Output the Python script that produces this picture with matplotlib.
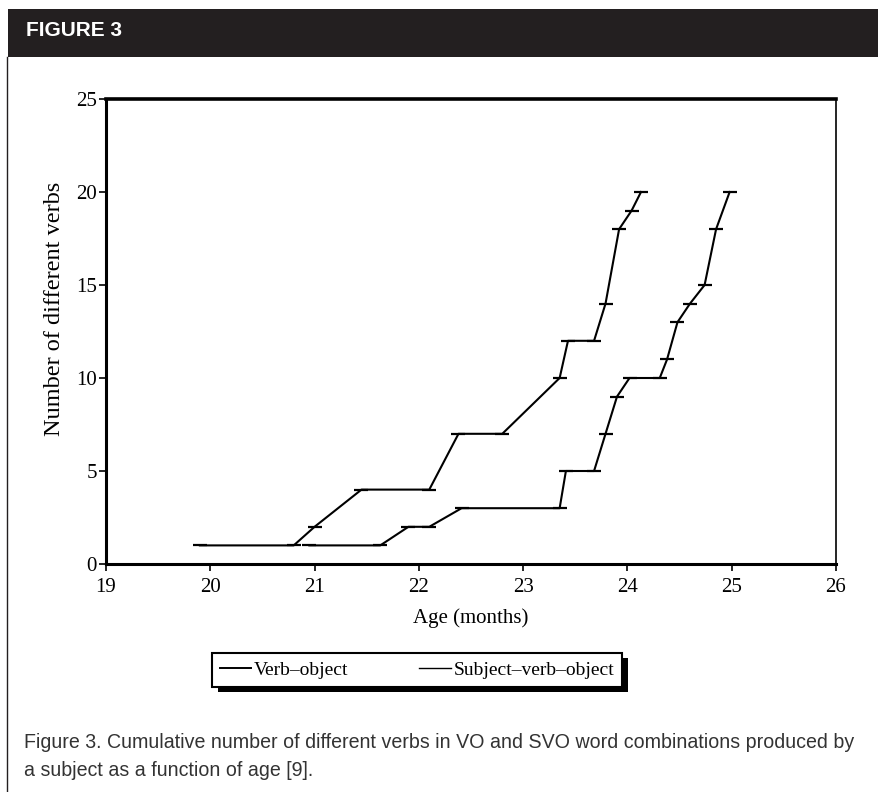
import matplotlib
matplotlib.use("Agg")
import matplotlib.pyplot as plt
from matplotlib.patches import Rectangle

# ---- data ----
vo_age = [19.9, 20.8, 21.0, 21.45, 22.1, 22.38, 22.8, 23.35, 23.43, 23.68, 23.79, 23.92, 24.04, 24.13]
vo_verbs = [1, 1, 2, 4, 4, 7, 7, 10, 12, 12, 14, 18, 19, 20]
svo_age = [20.95, 21.63, 21.9, 22.1, 22.41, 23.35, 23.41, 23.68, 23.79, 23.9, 24.02, 24.31,
           24.38, 24.48, 24.6, 24.74, 24.85, 24.98]
svo_verbs = [1, 1, 2, 2, 3, 3, 5, 5, 7, 9, 10, 10, 11, 13, 14, 15, 18, 20]
series_labels = ["Verb\u2013object", "Subject\u2013verb\u2013object"]
x_ticks = [19, 20, 21, 22, 23, 24, 25, 26]
y_ticks = [0, 5, 10, 15, 20, 25]
header_text = "FIGURE 3"
caption_lines = [
    "Figure 3. Cumulative number of different verbs in VO and SVO word combinations produced by",
    "a subject as a function of age [9].",
]

serif = "Liberation Serif"
sans = "Liberation Sans"

W, H = 879, 792
fig = plt.figure(figsize=(W / 100, H / 100), dpi=100)

# header bar
fig.patches.append(Rectangle((8 / W, 1 - 57 / H), 1 - 8 / W, 48 / H, transform=fig.transFigure,
                             facecolor="#231f20", edgecolor="none", zorder=0))
fig.text(26 / W, 1 - 30 / H, header_text, color="white", fontsize=15, fontweight="bold",
         family=sans, va="center", ha="left")
# left border line
fig.lines.append(plt.Line2D([7.5 / W, 7.5 / W], [0, 1 - 57 / H], transform=fig.transFigure,
                            color="#231f20", lw=1.0))

# axes
x0, x1 = 106, 836
y0, y1 = 99, 564
ax = fig.add_axes([x0 / W, 1 - y1 / H, (x1 - x0) / W, (y1 - y0) / H])
ax.set_xlim(19, 26)
ax.set_ylim(0, 25)
ax.set_xticks(x_ticks)
ax.set_yticks(y_ticks)
ax.tick_params(direction="out", length=5, width=1.2, labelsize=15, colors="black")
ax.tick_params(axis="y", pad=1.5)
ax.tick_params(axis="x", pad=5)
for lbl in ax.get_xticklabels() + ax.get_yticklabels():
    lbl.set_family(serif)
ax.spines["top"].set_linewidth(2.6)
ax.spines["left"].set_linewidth(2.2)
ax.spines["bottom"].set_linewidth(2.2)
ax.spines["right"].set_linewidth(1.2)

ax.plot(vo_age, vo_verbs, color="black", lw=1.5, marker="_", markersize=10,
        markeredgewidth=1.6, label=series_labels[0])
ax.plot(svo_age, svo_verbs, color="black", lw=1.5, marker="_", markersize=10,
        markeredgewidth=1.6, label=series_labels[1])

ax.set_xlabel("Age (months)", family=serif, fontsize=15, labelpad=8)
ax.set_ylabel("Number of different verbs", family=serif, fontsize=17.5)
ax.yaxis.set_label_coords((65 - x0) / (x1 - x0), (y1 - 309) / (y1 - y0))

# legend
h1 = plt.Line2D([], [], color="black", lw=1.4)
h2 = plt.Line2D([], [], color="black", lw=1.0)
leg = fig.legend([h1, h2], series_labels, ncol=2, loc="center", mode="expand",
                 bbox_to_anchor=(212 / W, 1 - 688 / H, 410 / W, 36 / H),
                 bbox_transform=fig.transFigure,
                 frameon=True, fancybox=False, shadow=False, edgecolor="black",
                 facecolor="white", framealpha=1.0,
                 prop={"family": serif, "size": 14}, handlelength=1.6, handletextpad=0.15,
                 columnspacing=3.7, borderpad=0.4, borderaxespad=0)
leg.get_frame().set_linewidth(1.5)
leg.set_zorder(5)

fig.canvas.draw()
bb = leg.get_window_extent()
fig.patches.append(Rectangle(((bb.x0 + 6) / W, (bb.y0 - 5) / H), bb.width / W, bb.height / H,
                             transform=fig.transFigure, facecolor="black", edgecolor="none",
                             zorder=4))

# caption
for i, line in enumerate(caption_lines):
    fig.text(24 / W, 1 - (743 + 27 * i) / H, line, family=sans, fontsize=14.1, color="#333333",
             va="center", ha="left")

fig.savefig("out.png", dpi=100)
